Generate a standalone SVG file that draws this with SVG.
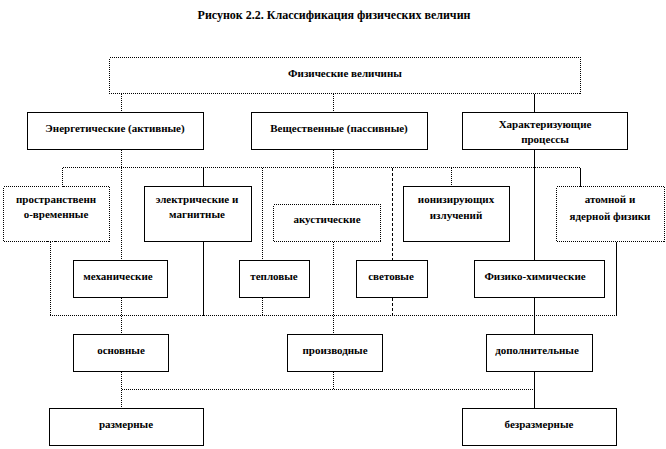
<svg xmlns="http://www.w3.org/2000/svg" width="666" height="449" viewBox="0 0 666 449">
<style>
  .bg { fill: #ffffff; }
  .box rect { fill: #ffffff; stroke: #000000; stroke-width: 1; shape-rendering: crispEdges; }
  .box.dot rect { stroke-dasharray: 1 1; }
  text { font-family: 'Liberation Serif', 'Times New Roman', serif; font-weight: bold; font-size: 11px; fill: #000000; text-anchor: middle; }
  .title { font-size: 12px; }
  .conn path { fill: none; stroke: #000000; stroke-width: 1; shape-rendering: crispEdges; }
  .conn .d { stroke-dasharray: 1 1; }
  .conn .dash { stroke-dasharray: 3 2; }
</style>
<rect class="bg" x="0" y="0" width="666" height="449"/>
<text class="title" x="334" y="19">Рисунок 2.2. Классификация физических величин</text>

<g id="connectors" class="conn">
  <path class="d" d="M121.5 93.5 V112.5"/>
  <path class="d" d="M333.5 93.5 V112.5"/>
  <path class="d" d="M121.5 149.5 V260.5"/>
  <path class="d" d="M333.5 149.5 V204.5"/>
  <path class="d" d="M62.5 167.5 V186.5"/>
  <path class="d" d="M62.5 167.5 H580.5"/>
  <path class="d" d="M262.5 167.5 V260.5"/>
  <path class="d" d="M451.5 167.5 V186.5"/>
  <path class="d" d="M50.5 241.5 V315.5"/>
  <path class="d" d="M121.5 297.5 V334.5"/>
  <path class="d" d="M262.5 297.5 V315.5"/>
  <path class="d" d="M333.5 241.5 V334.5"/>
  <path class="d" d="M49.5 315.5 H616.5"/>
  <path class="d" d="M121.5 371.5 V408.5"/>
  <path class="d" d="M333.5 371.5 V389.5"/>
  <path class="d" d="M121.5 389.5 H534.5"/>
  <path class="dash" d="M392.5 167.5 V260.5"/>
  <path class="dash" d="M392.5 297.5 V315.5"/>
  <path d="M534.5 93.5 V112.5"/>
  <path d="M534.5 149.5 V260.5"/>
  <path d="M534.5 297.5 V334.5"/>
  <path d="M534.5 371.5 V408.5"/>
  <path d="M203.5 167.5 V186.5"/>
  <path d="M203.5 241.5 V315.5"/>
  <path d="M580.5 167.5 V186.5"/>
  <path d="M616.5 241.5 V315.5"/>
</g>

<g id="n-fiz" class="box dot"><rect x="109.5" y="57.5" width="471" height="36"/><text x="345" y="77">Физические величины</text></g>
<g id="n-energ" class="box"><rect x="27.5" y="112.5" width="176" height="37"/><text x="115" y="132">Энергетические (активные)</text></g>
<g id="n-vesch" class="box"><rect x="251.5" y="112.5" width="176" height="37"/><text x="339" y="132">Вещественные (пассивные)</text></g>
<g id="n-harakt" class="box"><rect x="462.5" y="112.5" width="165" height="37"/><text x="545" y="128">Характеризующие</text><text x="545" y="143">процессы</text></g>

<g id="n-prostr" class="box dot"><rect x="3.5" y="186.5" width="106" height="55"/><text x="56" y="203">пространственн</text><text x="56" y="218">о-временные</text></g>
<g id="n-elektr" class="box"><rect x="144.5" y="186.5" width="107" height="55"/><text x="197" y="203">электрические и</text><text x="197" y="218">магнитные</text></g>
<g id="n-akust" class="box dot"><rect x="273.5" y="204.5" width="107" height="37"/><text x="327" y="223">акустические</text></g>
<g id="n-ioniz" class="box"><rect x="403.5" y="186.5" width="106" height="55"/><text x="456" y="203">ионизирующих</text><text x="456" y="219">излучений</text></g>
<g id="n-atom" class="box dot"><rect x="556.5" y="186.5" width="108" height="55"/><text x="610" y="203">атомной и</text><text x="610" y="220">ядерной физики</text></g>

<g id="n-meh" class="box"><rect x="73.5" y="260.5" width="94" height="37"/><text x="118" y="280">механические</text></g>
<g id="n-tepl" class="box"><rect x="239.5" y="260.5" width="70" height="37"/><text x="274" y="280">тепловые</text></g>
<g id="n-svet" class="box"><rect x="356.5" y="260.5" width="71" height="37"/><text x="391" y="280">световые</text></g>
<g id="n-fizhim" class="box"><rect x="474.5" y="260.5" width="130" height="37"/><text x="535" y="280">Физико-химические</text></g>

<g id="n-osn" class="box"><rect x="73.5" y="334.5" width="95" height="37"/><text x="121" y="354">основные</text></g>
<g id="n-proizv" class="box"><rect x="287.5" y="334.5" width="95" height="37"/><text x="335" y="354">производные</text></g>
<g id="n-dop" class="box"><rect x="486.5" y="334.5" width="106" height="37"/><text x="537" y="354">дополнительные</text></g>

<g id="n-razm" class="box"><rect x="49.5" y="408.5" width="154" height="37"/><text x="126" y="428">размерные</text></g>
<g id="n-bezr" class="box"><rect x="462.5" y="408.5" width="154" height="37"/><text x="539" y="428">безразмерные</text></g>
</svg>
